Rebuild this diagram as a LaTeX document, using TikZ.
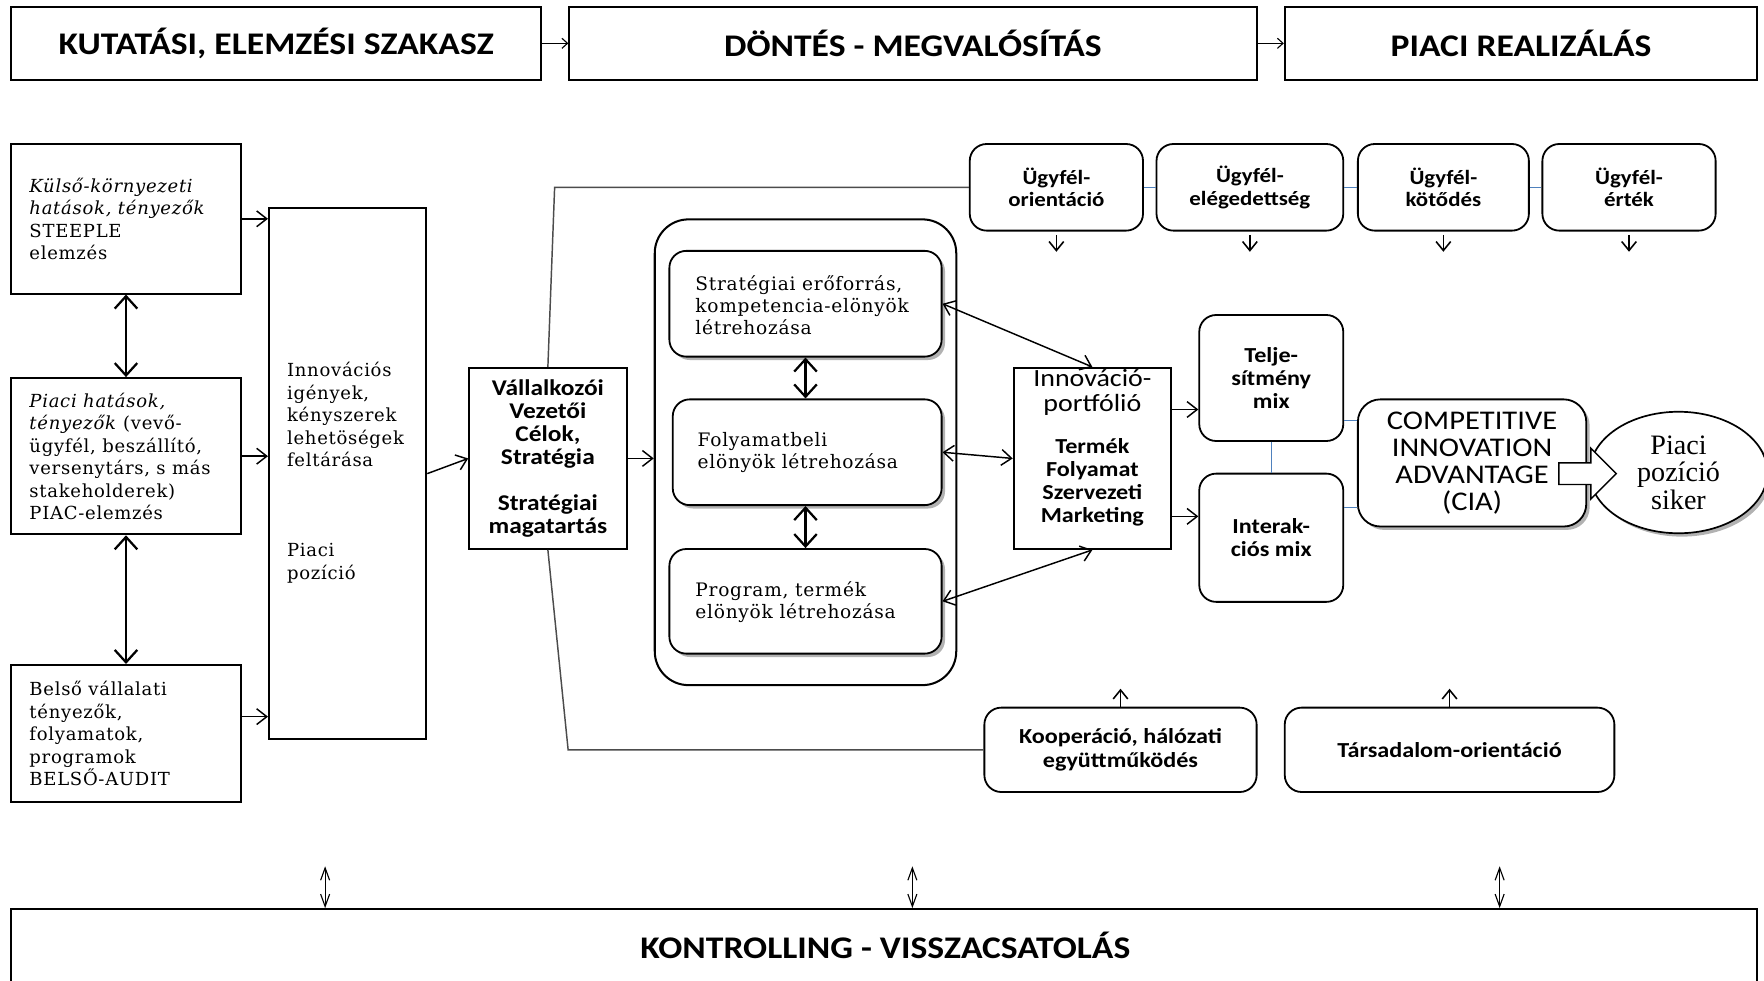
\documentclass[tikz,border=0pt]{standalone}
\usepackage{fontspec}
\usetikzlibrary{arrows.meta,shapes.geometric,shapes.arrows,shadows}
\newfontfamily\calfont[FakeStretch=1.13]{Carlito}
\newfontfamily\serfont[LetterSpace=4]{DejaVu Serif}
\newfontfamily\tmsfont{Liberation Serif}
\definecolor{blueline}{RGB}{79,129,189}

\tikzset{
  frame/.style={draw, line width=1.6pt, inner sep=0pt, fill=white},
  rnd/.style={frame, rounded corners=15pt},
  softshadow/.style={drop shadow={shadow xshift=3pt, shadow yshift=-3pt, opacity=0.3, fill=black}},
  hfont/.style={font=\calfont\bfseries\fontsize{28}{30}\selectfont},
  sfont/.style={font=\calfont\bfseries\fontsize{19}{20.5}\selectfont, align=center},
  ufont/.style={font=\calfont\bfseries\fontsize{18}{20}\selectfont, align=center},
  serif/.style={font=\serfont\fontsize{16}{20}\selectfont, align=left, inner sep=0pt},
  sserif/.style={font=\serfont\fontsize{16.5}{19.5}\selectfont, align=left, inner sep=0pt},
  link/.style={line width=1.3pt, -{Straight Barb[length=9pt,width=14pt]}},
  biglink/.style={line width=2pt, {Straight Barb[length=11pt,width=20pt]}-{Straight Barb[length=11pt,width=20pt]}},
  twoway/.style={line width=1.3pt, {Straight Barb[length=9pt,width=14pt]}-{Straight Barb[length=9pt,width=14pt]}},
  tinyarrow/.style={line width=1pt, -{Straight Barb[length=5pt,width=9pt]}},
  tick/.style={line width=1.4pt, -{Straight Barb[length=8pt,width=13pt]}},
  ctrl/.style={line width=1pt, {Straight Barb[length=11pt,width=8pt]}-{Straight Barb[length=11pt,width=8pt]}},
  bluel/.style={draw=blueline, line width=1pt},
  grayl/.style={draw=black!70, line width=1.3pt},
}

\begin{document}
\begin{tikzpicture}[x=1pt, y=-1pt]
\useasboundingbox (0,0) rectangle (1568,872);
\fill[white] (0,0) rectangle (1568,872);
\clip (0,0) rectangle (1568,872);

% phase headers
\node[frame, hfont, minimum width=471pt, minimum height=65pt] (h1) at (245.5,38.5) {KUTATÁSI, ELEMZÉSI SZAKASZ};
\node[frame, hfont, minimum width=611pt, minimum height=65pt] (h2) at (811.5,38.5) {DÖNTÉS - MEGVALÓSÍTÁS};
\node[frame, hfont, minimum width=420pt, minimum height=65pt] (h3) at (1352,38.5) {PIACI REALIZÁLÁS};
\draw[tinyarrow] (h1.east) -- (h2.west);
\draw[tinyarrow] (h2.east) -- (h3.west);

% analysis column
\node[frame, minimum width=204pt, minimum height=133pt] (ext) at (112,194.5) {};
\node[serif, anchor=west] (exttxt) at (26,194.5) {\textit{Külső-környezeti}\\\textit{hatások, tényezők}\\STEEPLE\\elemzés};
\node[frame, minimum width=204pt, minimum height=139pt] (mkt) at (112,405.5) {};
\node[serif, anchor=west] (mkttxt) at (26,405.5) {\textit{Piaci hatások,}\\\textit{tényezők} (vevő-\\ügyfél, beszállító,\\versenytárs, s más\\stakeholderek)\\PIAC-elemzés};
\node[frame, minimum width=204pt, minimum height=122pt] (inn) at (112,652) {};
\node[serif, anchor=west] (inntxt) at (26,652) {Belső vállalati\\tényezők,\\folyamatok,\\programok\\BELSŐ-AUDIT};

\draw[biglink] (ext.south) -- (mkt.north);
\draw[biglink] (mkt.south) -- (inn.north);

% needs column
\node[frame, minimum width=140pt, minimum height=472pt] (need) at (309,421) {};
\node[serif, anchor=north west] (needtxt) at (255,322) {Innovációs\\igények,\\kényszerek\\lehetöségek\\feltárása};
\node[serif, anchor=north west] (postxt) at (255,483) {Piaci\\pozíció};

\draw[link] (ext.east) -- (ext.east -| need.west);
\draw[link] (mkt.east) -- (mkt.east -| need.west);
\draw[link] ([yshift=15pt]inn.east) -- ([yshift=15pt]inn.east -| need.west);

% strategy
\node[frame, sfont, font=\calfont\bfseries\fontsize{20}{20.5}\selectfont, minimum width=140pt, minimum height=161pt] (strat) at (487,407.5) {Vállalkozói\\Vezetői\\Célok,\\Stratégia\\[20.5pt]Stratégiai\\magatartás};
\draw[link] (need.east) -- (strat.west);

% advantage block
\node[draw, line width=1.8pt, rounded corners=30pt, minimum width=268pt, minimum height=414pt] (adv) at (716,402) {};
\node[rnd, softshadow, minimum width=242pt, minimum height=94pt] (s1) at (716,270) {};
\node[sserif, anchor=west] (s1txt) at (618,271) {Stratégiai erőforrás,\\kompetencia-elönyök\\létrehozása};
\node[rnd, softshadow, minimum width=239pt, minimum height=94pt] (s2) at (717.5,402) {};
\node[sserif, anchor=west] (s2txt) at (620,402) {Folyamatbeli\\elönyök létrehozása};
\node[rnd, softshadow, minimum width=242pt, minimum height=93pt] (s3) at (716,534.5) {};
\node[sserif, anchor=west] (s3txt) at (618,535) {Program, termék\\elönyök létrehozása};
\draw[link] (strat.east) -- (strat.east -| adv.west);
\draw[biglink] (s1.south) -- (s1.south |- s2.north);
\draw[biglink] (s2.south -| s1.south) -- (s3.north);

% innovation portfolio
\node[frame, minimum width=140pt, minimum height=161pt] (port) at (971,407.5) {};
\node[font=\calfont\fontsize{22}{22}\selectfont, align=center, anchor=north, inner sep=0pt] (porttitle) at (971,328) {Innováció-\\portfólió};
\node[sfont, inner sep=0pt] (portlist) at (971,429) {Termék\\Folyamat\\Szervezeti\\Marketing};
\draw[twoway] (s1.east) -- (port.north);
\draw[twoway] (s2.east) -- (port.west);
\draw[twoway] (s3.east) -- (port.south);

% marketing mixes
\node[rnd, sfont, minimum width=128pt, minimum height=112pt] (perf) at (1130,336) {Telje-\\sítmény\\mix};
\node[rnd, sfont, minimum width=128pt, minimum height=114pt] (inter) at (1130,478) {Interak-\\ciós mix};
\draw[link] ([yshift=43.5pt]port.east) -- ([yshift=43.5pt]port.east -| perf.west);
\draw[link] ([yshift=-51.5pt]port.east) -- ([yshift=-51.5pt]port.east -| inter.west);
\draw[bluel] (perf.south) -- (inter.north);

% competitive advantage and market outcome
\node[rnd, softshadow, rounded corners=20pt, minimum width=203pt, minimum height=113pt, align=center,
      font=\calfont\fontsize{24}{24}\selectfont] (cia) at (1308.5,411.5) {COMPETITIVE\\INNOVATION\\ADVANTAGE\\(CIA)};
\draw[bluel] ([yshift=-38pt]perf.east) -- ([yshift=-38pt]perf.east -| cia.west);
\draw[bluel] ([yshift=27pt]inter.east) -- ([yshift=27pt]inter.east -| cia.west);
\node[ellipse, draw, line width=1.5pt, fill=white, softshadow, minimum width=158pt, minimum height=108pt, inner sep=0pt,
      align=center, font=\tmsfont\fontsize{25}{24.5}\selectfont] (succ) at (1492,420) {Piaci\\pozíció\\siker};
\node[single arrow, draw, line width=1.3pt, fill=white, minimum height=51pt, inner sep=9pt,
      single arrow head extend=13pt, anchor=tail] (push) at (1385,421) {};

% customer relations
\node[rnd, ufont, minimum width=154pt, minimum height=77pt] (u1) at (939,166.5) {Ügyfél-\\orientáció};
\node[rnd, ufont, minimum width=166pt, minimum height=77pt] (u2) at (1111,166.5) {Ügyfél-\\elégedettség};
\node[rnd, ufont, minimum width=152pt, minimum height=77pt] (u3) at (1283,166.5) {Ügyfél-\\kötődés};
\node[rnd, ufont, minimum width=154pt, minimum height=77pt] (u4) at (1448,166.5) {Ügyfél-\\érték};
\draw[bluel] (u1.east) -- (u2.west);
\draw[bluel] (u2.east) -- (u3.west);
\draw[bluel] (u3.east) -- (u4.west);
\foreach \u in {u1,u2,u3,u4}
  \draw[tick] ([yshift=-3pt]\u.south) -- ++(0,15);

% cooperation and society
\node[rnd, sfont, minimum width=242pt, minimum height=75pt] (coop) at (996,666.5) {Kooperáció, hálózati\\együttműködés};
\node[rnd, sfont, minimum width=293pt, minimum height=75pt] (soc) at (1288.5,666.5) {Társadalom-orientáció};
\draw[tick] (coop.north) -- ++(0,-16);
\draw[tick] (soc.north) -- ++(0,-16);

% strategy frame lines
\draw[grayl] (strat.north) -- (493,166.5) -- (u1.west);
\draw[grayl] (strat.south) -- (505,666.5) -- (coop.west);

% controlling
\node[frame, minimum width=1552pt, minimum height=100pt] (ctrlbox) at (786,858) {};
\node[hfont] (ctrltxt) at (787,840) {KONTROLLING - VISSZACSATOLÁS};
\coordinate (c1) at (289,770);
\coordinate (c2) at (811,770);
\coordinate (c3) at (1333,770);
\foreach \c in {c1,c2,c3}
  \draw[ctrl] (\c) -- (\c |- ctrlbox.north);
\end{tikzpicture}
\end{document}
